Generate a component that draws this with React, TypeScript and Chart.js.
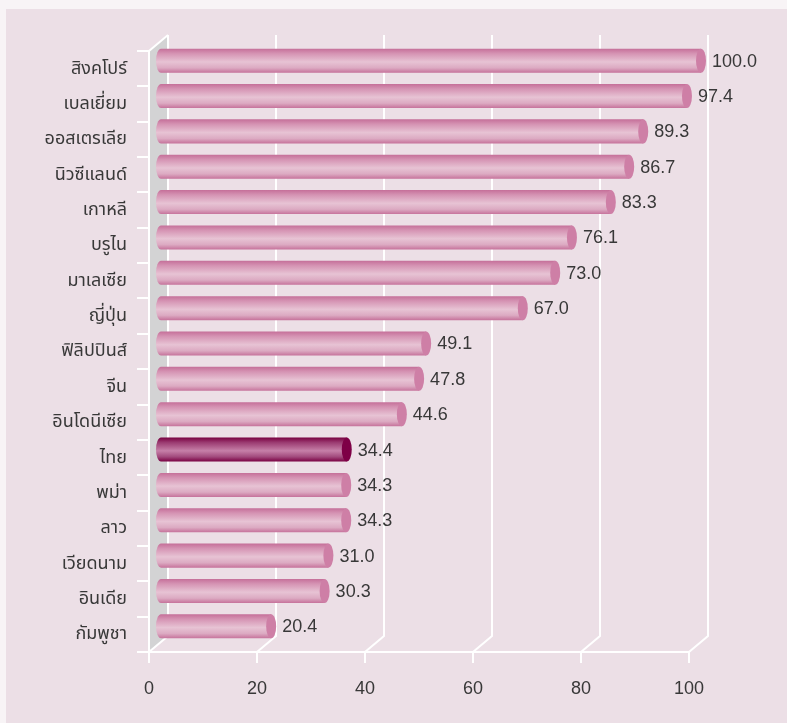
import React, { useEffect, useRef } from "react";
import { Chart, registerables } from "chart.js";

Chart.register(...registerables);

const categories = [
  "สิงคโปร์",
  "เบลเยี่ยม",
  "ออสเตรเลีย",
  "นิวซีแลนด์",
  "เกาหลี",
  "บรูไน",
  "มาเลเซีย",
  "ญี่ปุ่น",
  "ฟิลิปปินส์",
  "จีน",
  "อินโดนีเซีย",
  "ไทย",
  "พม่า",
  "ลาว",
  "เวียดนาม",
  "อินเดีย",
  "กัมพูชา",
];
const values = [100.0, 97.4, 89.3, 86.7, 83.3, 76.1, 73.0, 67.0, 49.1, 47.8, 44.6, 34.4, 34.3, 34.3, 31.0, 30.3, 20.4];
const highlightCategory = "ไทย";
const xTicks = [0, 20, 40, 60, 80, 100];

const DEPTH_X = 19;
const DEPTH_Y = -16;
const BAR_DX = 12;
const BAR_DY = -8;
const FONT = "'Liberation Sans', Arial, 'Noto Sans Thai', 'Noto Sans', sans-serif";

const threeDPlugin = {
  id: "threeD",
  beforeDraw(chart: any) {
    const ctx = chart.ctx;
    const { left, top, bottom } = chart.chartArea;
    const xs = chart.scales.x;
    ctx.save();
    ctx.fillStyle = "#f8f4f6";
    ctx.fillRect(0, 0, chart.width, chart.height);
    ctx.fillStyle = "#ecdfe6";
    ctx.fillRect(6, 9, chart.width - 6, chart.height - 9);

    // left wall
    ctx.fillStyle = "#d3d3d4";
    ctx.beginPath();
    ctx.moveTo(left, top);
    ctx.lineTo(left + DEPTH_X, top + DEPTH_Y);
    ctx.lineTo(left + DEPTH_X, bottom + DEPTH_Y);
    ctx.lineTo(left, bottom);
    ctx.closePath();
    ctx.fill();

    ctx.strokeStyle = "#ffffff";
    ctx.lineWidth = 2;
    ctx.lineCap = "butt";
    // back grid lines and floor diagonals
    xTicks.forEach((v) => {
      const fx = Math.round(xs.getPixelForValue(v));
      const bx = fx + DEPTH_X;
      ctx.beginPath();
      ctx.moveTo(bx, top + DEPTH_Y);
      ctx.lineTo(bx, bottom + DEPTH_Y);
      ctx.lineTo(fx, bottom);
      ctx.lineTo(fx, bottom + 11);
      ctx.stroke();
    });
    // front left edge + top diagonal
    ctx.beginPath();
    ctx.moveTo(left + DEPTH_X, top + DEPTH_Y);
    ctx.lineTo(left, top);
    ctx.lineTo(left, bottom);
    ctx.stroke();
    // front bottom axis
    ctx.beginPath();
    ctx.moveTo(left - 12, bottom);
    ctx.lineTo(xs.getPixelForValue(100), bottom);
    ctx.stroke();
    // category tick marks
    const n = categories.length;
    const step = (bottom - top) / n;
    for (let i = 0; i <= n; i++) {
      const y = Math.round(top + i * step);
      ctx.beginPath();
      ctx.moveTo(left - 12, y);
      ctx.lineTo(left, y);
      ctx.stroke();
    }
    ctx.restore();
  },
  afterDatasetsDraw(chart: any) {
    const ctx = chart.ctx;
    const meta = chart.getDatasetMeta(0);
    ctx.save();
    meta.data.forEach((el: any, i: number) => {
      const p = el.getProps(["x", "y", "base", "height"], true);
      const hi = categories[i] === highlightCategory;
      const cy = p.y + BAR_DY;
      const ry = p.height / 2;
      const rx = 5;
      const x0 = p.base + BAR_DX;
      const x1 = p.x + BAR_DX;
      const g = ctx.createLinearGradient(0, cy - ry, 0, cy + ry);
      if (hi) {
        g.addColorStop(0, "#780040");
        g.addColorStop(0.2, "#9a3a70");
        g.addColorStop(0.55, "#c680a8");
        g.addColorStop(0.8, "#a24a7d");
        g.addColorStop(1, "#7a0042");
      } else {
        g.addColorStop(0, "#c56f99");
        g.addColorStop(0.2, "#d593b3");
        g.addColorStop(0.55, "#e7c3d4");
        g.addColorStop(0.8, "#dcaac2");
        g.addColorStop(1, "#c6729b");
      }
      ctx.fillStyle = g;
      ctx.beginPath();
      ctx.moveTo(x1, cy - ry);
      ctx.lineTo(x0, cy - ry);
      ctx.ellipse(x0, cy, rx, ry, 0, -Math.PI / 2, Math.PI / 2, true);
      ctx.lineTo(x1, cy + ry);
      ctx.closePath();
      ctx.fill();
      ctx.fillStyle = hi ? "#7e0046" : "#ce7fa6";
      ctx.beginPath();
      ctx.ellipse(x1, cy, rx, ry, 0, 0, Math.PI * 2);
      ctx.fill();

      ctx.fillStyle = "#383838";
      ctx.font = `18px ${FONT}`;
      ctx.textAlign = "left";
      ctx.textBaseline = "middle";
      ctx.fillText(values[i].toFixed(1), x1 + rx + 6, cy + 1);
    });
    ctx.restore();
  },
};

export default function App() {
  const ref = useRef<HTMLCanvasElement>(null);
  useEffect(() => {
    if (!ref.current) return;
    const chart = new Chart(ref.current, {
      type: "bar",
      data: {
        labels: categories,
        datasets: [
          {
            data: values,
            backgroundColor: "rgba(0,0,0,0)",
            borderWidth: 0,
            barPercentage: 0.68,
            categoryPercentage: 1,
          },
        ],
      },
      options: {
        indexAxis: "y",
        responsive: false,
        animation: false,
        layout: { padding: { left: 0, right: 98, top: 51, bottom: 0 } },
        plugins: { legend: { display: false }, tooltip: { enabled: false } },
        scales: {
          x: {
            type: "linear",
            min: 0,
            max: 100,
            afterBuildTicks: (scale: any) => {
              scale.ticks = xTicks.map((v) => ({ value: v }));
            },
            afterFit: (scale: any) => {
              scale.height = 71;
            },
            grid: { display: false, drawTicks: false },
            border: { display: false },
            ticks: {
              color: "#383838",
              font: { size: 18, family: FONT },
              padding: 26,
              maxRotation: 0,
            },
          },
          y: {
            type: "category",
            afterFit: (scale: any) => {
              scale.width = 149;
            },
            grid: { display: false, drawTicks: false },
            border: { display: false },
            ticks: {
              color: "#383838",
              font: { size: 18, family: FONT },
              padding: 22,
            },
          },
        },
      },
      plugins: [threeDPlugin],
    });
    return () => chart.destroy();
  }, []);
  return (
    <div style={{ position: "absolute", left: 0, top: 0, width: 787, height: 723 }}>
      <canvas ref={ref} width={787} height={723} style={{ width: 787, height: 723, display: "block" }} />
    </div>
  );
}
